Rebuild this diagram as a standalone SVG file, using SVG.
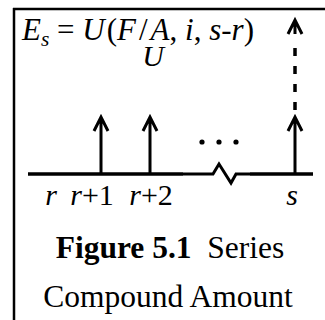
<svg xmlns="http://www.w3.org/2000/svg" width="325" height="320" viewBox="0 0 325 320">
<style>
.ln{stroke:#000;fill:none;stroke-linecap:butt}
.it{font-family:"Liberation Serif",serif;font-style:italic;fill:#000}
.rm{font-family:"Liberation Serif",serif;font-style:normal;fill:#000}
.bd{font-family:"Liberation Serif",serif;font-weight:bold;fill:#000}
</style>
<rect width="325" height="320" fill="#fff"/>
<g id="frame">
<path class="ln" d="M14 8V320M13 9H325" stroke-width="2.5"/>
</g>
<g id="connectors">
<path class="ln" d="M28 174H183" stroke-width="3.5"/>
<path class="ln" d="M183 174H213L219 164L231 183L236 174H250" stroke-width="3" stroke-linejoin="miter"/>
<path class="ln" d="M250 174H313" stroke-width="3.5"/>
<path class="ln" d="M101 174V117M94 131L101 117L108 131" stroke-width="3"/>
<path class="ln" d="M150 174V117M143 131L150 117L157 131" stroke-width="3"/>
<path class="ln" d="M295 174V117M288 131L295 117L302 131" stroke-width="3"/>
<path class="ln" d="M295 110V40" stroke-width="3.5" stroke-dasharray="8 10"/>
<path class="ln" d="M295 34V22M288 34L295 20L302 34" stroke-width="3"/>
</g>
<g id="dots">
<circle cx="202" cy="142" r="2.6"/>
<circle cx="219" cy="142" r="2.6"/>
<circle cx="236" cy="142" r="2.6"/>
</g>
<g id="equation">
<text x="22" y="40" class="it" font-size="31">E<tspan font-size="21.5" dy="6">s</tspan><tspan class="rm" dy="-6"> = </tspan>U<tspan class="rm" dx="2">(</tspan>F<tspan class="rm" dx="3">/</tspan><tspan dx="3">A</tspan><tspan class="rm">, </tspan>i<tspan class="rm">, </tspan>s<tspan class="rm">-</tspan>r<tspan class="rm">)</tspan></text>
</g>
<g id="label-U">
<text x="153" y="66" class="it" font-size="30" text-anchor="middle">U</text>
</g>
<g id="labels">
<text x="51" y="205" class="it" font-size="30" text-anchor="middle">r</text>
<text x="92" y="205" class="it" font-size="30" text-anchor="middle">r<tspan class="rm">+1</tspan></text>
<text x="151" y="205" class="it" font-size="30" text-anchor="middle">r<tspan class="rm">+2</tspan></text>
<text x="292" y="205" class="it" font-size="30" text-anchor="middle">s</text>
</g>
<g id="caption">
<text x="170" y="258" class="rm" font-size="31.5" text-anchor="middle"><tspan class="bd">Figure 5.1</tspan>&#160;&#160;Series</text>
<text x="168" y="307" class="rm" font-size="31.5" text-anchor="middle">Compound Amount</text>
</g>
</svg>
